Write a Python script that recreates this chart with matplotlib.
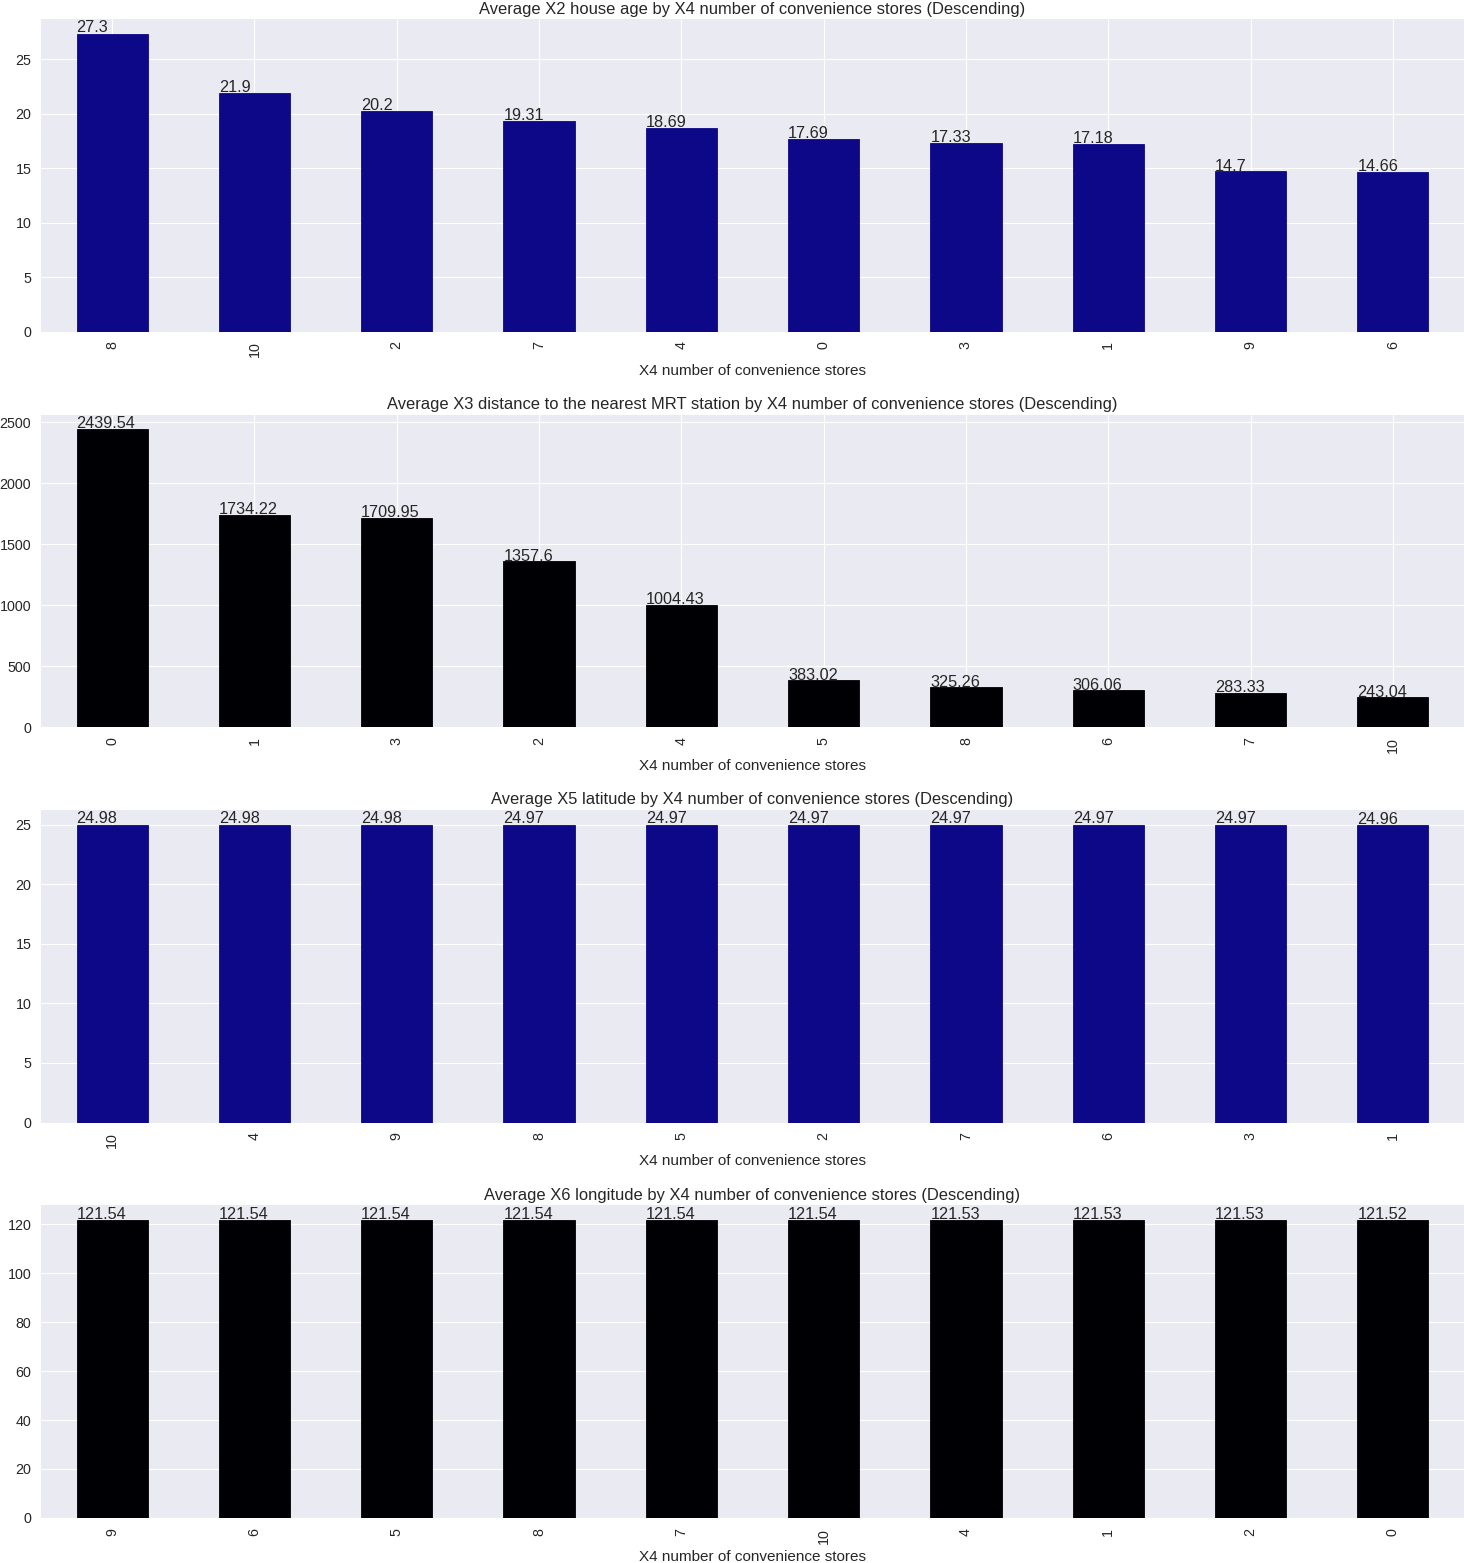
import matplotlib
matplotlib.use("Agg")
import matplotlib.pyplot as plt
from matplotlib import style

style.use("seaborn-v0_8-darkgrid")
plt.rcParams["font.family"] = ["Liberation Sans", "DejaVu Sans"]
plt.rcParams["text.color"] = ".15"
plt.rcParams["xtick.color"] = ".15"
plt.rcParams["ytick.color"] = ".15"
plt.rcParams["axes.labelcolor"] = ".15"

XLABEL = "X4 number of convenience stores"

age_stores = ["8", "10", "2", "7", "4", "0", "3", "1", "9", "6"]
age_values = [27.3, 21.9, 20.2, 19.31, 18.69, 17.69, 17.33, 17.18, 14.7, 14.66]

mrt_stores = ["0", "1", "3", "2", "4", "5", "8", "6", "7", "10"]
mrt_values = [2439.54, 1734.22, 1709.95, 1357.6, 1004.43, 383.02, 325.26, 306.06, 283.33, 243.04]

lat_stores = ["10", "4", "9", "8", "5", "2", "7", "6", "3", "1"]
lat_values = [24.98, 24.98, 24.98, 24.97, 24.97, 24.97, 24.97, 24.97, 24.97, 24.96]

lon_stores = ["9", "6", "5", "8", "7", "10", "4", "1", "2", "0"]
lon_values = [121.54, 121.54, 121.54, 121.54, 121.54, 121.54, 121.53, 121.53, 121.53, 121.52]

panels = [
    ("X2 house age", age_stores, age_values, "#0d0887"),
    ("X3 distance to the nearest MRT station", mrt_stores, mrt_values, "#000004"),
    ("X5 latitude", lat_stores, lat_values, "#0d0887"),
    ("X6 longitude", lon_stores, lon_values, "#000004"),
]

fig, axes = plt.subplots(4, 1, figsize=(14.64, 15.63), dpi=100)
fig.subplots_adjust(left=0.028, right=1.0, top=0.9878, bottom=0.0288, hspace=0.265)

for ax, (name, cats, vals, color) in zip(axes, panels):
    x = list(range(len(cats)))
    bars = ax.bar(x, vals, width=0.5, color=color, edgecolor=color, linewidth=0.6)
    ax.set_xlim(-0.5, len(cats) - 0.5)
    ax.set_xticks(x)
    ax.set_xticklabels(cats, rotation=90)
    ax.tick_params(axis="both", labelsize=10.3, pad=7)
    ax.set_xlabel(XLABEL, fontsize=11, labelpad=4.5)
    ax.set_title(f"Average {name} by X4 number of convenience stores (Descending)", fontsize=11.9, pad=4)
    for p in bars:
        ax.annotate(str(round(p.get_height(), 2)), (p.get_x(), p.get_height() * 1.005), fontsize=11.7)

plt.savefig("out.png")
